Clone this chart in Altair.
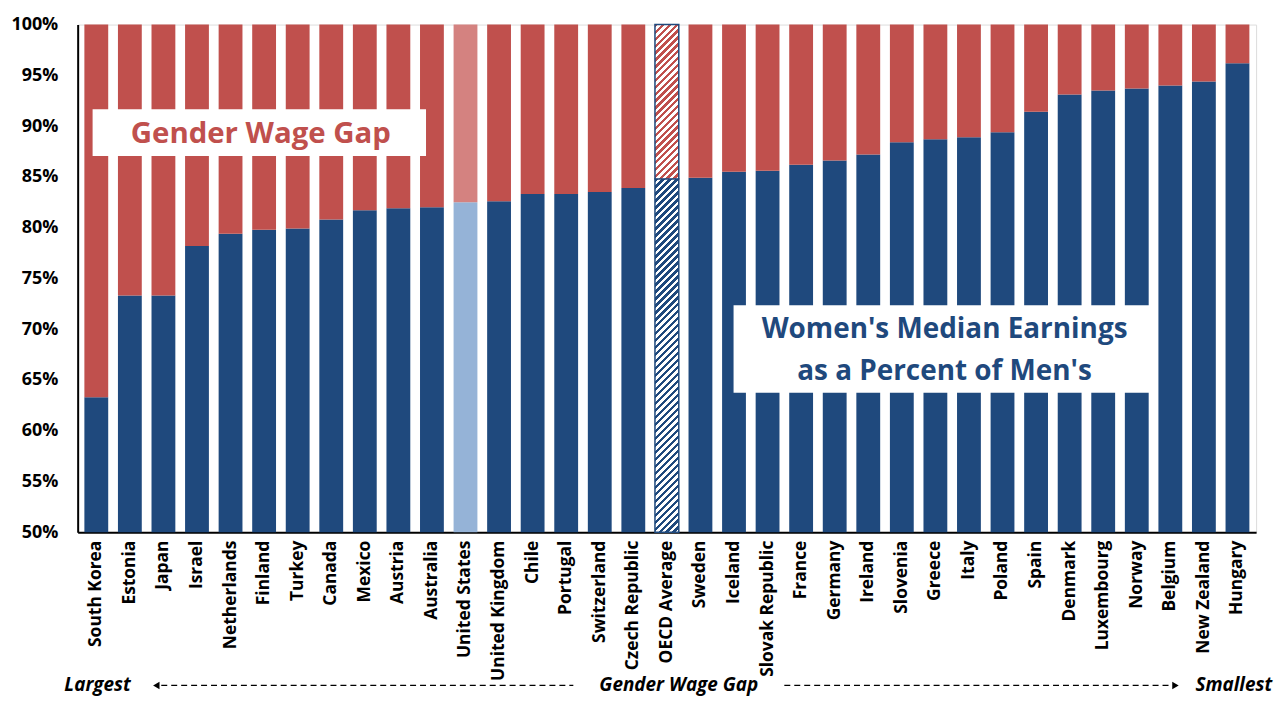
import altair as alt
import pandas as pd

countries = ["South Korea", "Estonia", "Japan", "Israel", "Netherlands", "Finland", "Turkey",
             "Canada", "Mexico", "Austria", "Australia", "United States", "United Kingdom",
             "Chile", "Portugal", "Switzerland", "Czech Republic", "OECD Average", "Sweden",
             "Iceland", "Slovak Republic", "France", "Germany", "Ireland", "Slovenia", "Greece",
             "Italy", "Poland", "Spain", "Denmark", "Luxembourg", "Norway", "Belgium",
             "New Zealand", "Hungary"]
women_pct = [0.633, 0.733, 0.733, 0.782, 0.794, 0.798, 0.799,
             0.808, 0.817, 0.819, 0.820, 0.825, 0.826,
             0.833, 0.833, 0.835, 0.839, 0.848, 0.849,
             0.855, 0.856, 0.862, 0.866, 0.872, 0.884, 0.887,
             0.889, 0.894, 0.914, 0.931, 0.935, 0.937, 0.940,
             0.944, 0.962]
y_ticks = [0.5, 0.55, 0.6, 0.65, 0.7, 0.75, 0.8, 0.85, 0.9, 0.95, 1.0]
highlight_us = "United States"
highlight_avg = "OECD Average"

df = pd.DataFrame({"country": countries, "women": women_pct})

BLUE = "#1F497D"
RED = "#C0504D"
LBLUE = "#95B3D7"
LRED = "#D48280"
FONT = "Open Sans"

W, H = 1184, 510
PI, PO = 0.29, 0.2
step = W / (len(countries) - PI + 2 * PO)
bar_w = step * (1 - PI)


def hatch(c1, c2, w, h, period=7.0):
    r = w / h
    s = (1 + r) / (1 + r * r)
    n = max(1, int(round(h * (1 + r) / period)))
    stops = []
    for i in range(n):
        a, b, c = i / n, (i + 0.5) / n, (i + 1) / n
        stops += [alt.GradientStop(offset=a, color=c1), alt.GradientStop(offset=b, color=c1),
                  alt.GradientStop(offset=b, color=c2), alt.GradientStop(offset=c, color=c2)]
    return alt.LinearGradient(gradient="linear", stops=stops, x1=0, y1=0, x2=s * r, y2=s)


avg_val = women_pct[countries.index(highlight_avg)]
h_blue = (avg_val - 0.5) / 0.5 * H
h_red = (1 - avg_val) / 0.5 * H

base = alt.Chart(df).encode(
    x=alt.X("country:N", sort=countries,
            scale=alt.Scale(paddingInner=PI, paddingOuter=PO),
            axis=alt.Axis(title=None, labelAngle=-90, labelAlign="right", labelBaseline="middle",
                          labelFont=FONT, labelFontSize=17.5, labelFontWeight="bold",
                          labelColor="black", labelPadding=8, labelLimit=0,
                          ticks=False, tickSize=0, domainColor="black", domainWidth=2)),
    y=alt.Y("women:Q", scale=alt.Scale(domain=[0.5, 1.0], nice=False, zero=False),
            axis=alt.Axis(title=None, values=y_ticks, format=".0%", grid=False,
                          labelFont=FONT, labelFontSize=18, labelFontWeight="bold",
                          labelColor="black", labelPadding=20, ticks=False, tickSize=0,
                          domainColor="black", domainWidth=2)),
)

normal = base.transform_filter(
    ~alt.FieldOneOfPredicate(field="country", oneOf=[highlight_us, highlight_avg]))
us = base.transform_filter(alt.FieldEqualPredicate(field="country", equal=highlight_us))
avg = base.transform_filter(alt.FieldEqualPredicate(field="country", equal=highlight_avg))

layers = [
    normal.mark_bar(color=BLUE).encode(y2=alt.datum(0.5)),
    normal.mark_bar(color=RED).encode(y2=alt.datum(1.0)),
    us.mark_bar(color=LBLUE).encode(y2=alt.datum(0.5)),
    us.mark_bar(color=LRED).encode(y2=alt.datum(1.0)),
    avg.mark_bar(fill=hatch(BLUE, "#FFFFFF", bar_w, h_blue), stroke=BLUE, strokeWidth=1.5)
       .encode(y2=alt.datum(0.5)),
    avg.mark_bar(fill=hatch(RED, "#FFFFFF", bar_w, h_red), stroke=BLUE, strokeWidth=1.5)
       .encode(y2=alt.datum(1.0)),
]

one = pd.DataFrame({"k": [0]})
ann = alt.Chart(one)

# annotation boxes
layers.append(ann.mark_rect(fill="white").encode(
    x=alt.value(15), x2=alt.value(350), y=alt.value(85), y2=alt.value(132)))
layers.append(ann.mark_text(text="Gender Wage Gap", font=FONT, fontSize=29.5, fontWeight="bold",
                            color=RED, align="center", baseline="middle").encode(
    x=alt.value(184), y=alt.value(110)))
layers.append(ann.mark_rect(fill="white").encode(
    x=alt.value(659), x2=alt.value(1082), y=alt.value(282), y2=alt.value(370)))
layers.append(ann.mark_text(text=["Women's Median Earnings", "as a Percent of Men's"], font=FONT,
                            fontSize=28, fontWeight="bold", color=BLUE, align="center",
                            baseline="middle", lineHeight=42).encode(
    x=alt.value(871), y=alt.value(307)))

# bottom direction annotation
yb = 664
for txt, xv, al in [("Largest", 20, "center"), ("Gender Wage Gap", 604, "center"),
                    ("Smallest", 1123, "left")]:
    layers.append(ann.mark_text(text=txt, font=FONT, fontSize=19, fontWeight="bold",
                                fontStyle="italic", color="black", align=al,
                                baseline="middle").encode(x=alt.value(xv), y=alt.value(yb)))
layers.append(ann.mark_rule(color="black", strokeWidth=1.3, strokeDash=[6, 4]).encode(
    x=alt.value(84), x2=alt.value(498), y=alt.value(yb)))
layers.append(ann.mark_rule(color="black", strokeWidth=1.3, strokeDash=[6, 4]).encode(
    x=alt.value(710), x2=alt.value(1100), y=alt.value(yb)))
layers.append(ann.mark_point(shape="triangle-left", filled=True, size=55, color="black",
                             opacity=1).encode(x=alt.value(79), y=alt.value(yb)))
layers.append(ann.mark_point(shape="triangle-right", filled=True, size=55, color="black",
                             opacity=1).encode(x=alt.value(1103), y=alt.value(yb)))

chart = alt.layer(*layers).properties(
    width=W, height=H,
    autosize=alt.AutoSizeParams(type="none"),
    padding={"left": 70, "top": 15, "right": 19, "bottom": 169},
).configure_view(stroke=None).configure(background="white")

chart.save("out.html", embed_options={"renderer": "svg", "actions": False})
